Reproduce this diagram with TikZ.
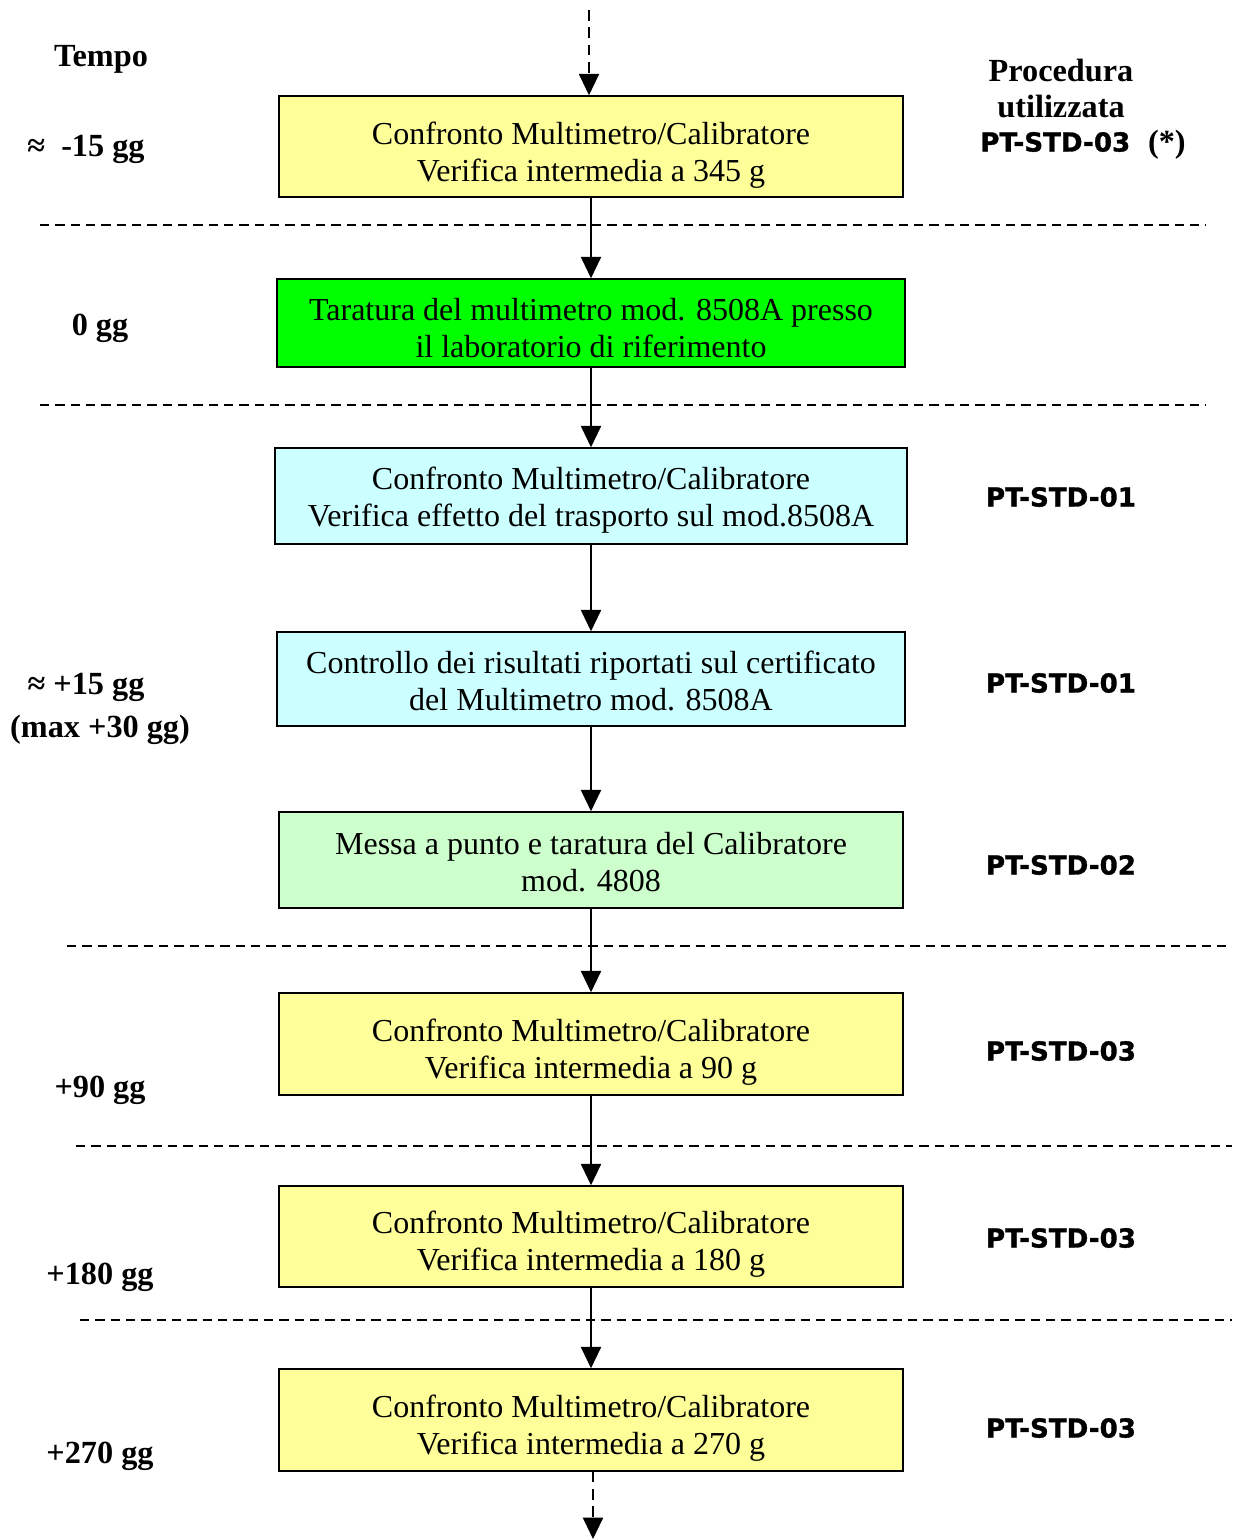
\documentclass[tikz,border=0pt]{standalone}
\usepackage{fontspec}
\setmainfont{Liberation Serif}
\newfontfamily\ptfont{DejaVu Sans Bold}[FakeBold=1.2]
\usetikzlibrary{arrows.meta}
\definecolor{yel}{HTML}{FFFF99}
\definecolor{grn}{HTML}{00FF00}
\definecolor{cya}{HTML}{CCFFFF}
\definecolor{lgr}{HTML}{CCFFCC}
\begin{document}
\begin{tikzpicture}[x=0.75pt,y=-0.75pt,
  box/.style={draw=black,line width=1.1pt,inner sep=0pt},
  txt/.style={inner sep=0pt,align=center,font=\fontsize{24}{27.5}\selectfont},
  lab/.style={font=\bfseries\fontsize{24.2}{27}\selectfont,inner sep=0pt},
  proc/.style={font=\ptfont\fontsize{19.6}{22}\selectfont,inner sep=0pt},
  flow/.style={line width=1.5pt,-{Triangle[width=15pt,length=16pt]}},
  sep/.style={line width=0.9pt,dash pattern=on 7pt off 4.5pt}]
\useasboundingbox (0,0) rectangle (1232,1539);

% boxes
\node[box,fill=yel,minimum width=468pt,minimum height=75.75pt] (b1) at (591,146.5) {};
\node[box,fill=grn,minimum width=471pt,minimum height=66pt] (b2) at (591,323) {};
\node[box,fill=cya,minimum width=474pt,minimum height=72pt] (b3) at (591,496) {};
\node[box,fill=cya,minimum width=471pt,minimum height=70.5pt] (b4) at (591,679) {};
\node[box,fill=lgr,minimum width=468pt,minimum height=72pt] (b5) at (591,860) {};
\node[box,fill=yel,minimum width=468pt,minimum height=76.5pt] (b6) at (591,1044) {};
\node[box,fill=yel,minimum width=468pt,minimum height=75.75pt] (b7) at (591,1236.5) {};
\node[box,fill=yel,minimum width=468pt,minimum height=76.5pt] (b8) at (591,1420) {};

% box texts
\node[txt] (b1t) at (591,155) {Confronto Multimetro/Calibratore\\Verifica intermedia a 345 g};
\node[txt] (b2t) at (591,328) {Taratura del multimetro mod. 8508A presso\\il laboratorio di riferimento};
\node[txt] (b3t) at (591,500) {Confronto Multimetro/Calibratore\\Verifica effetto del trasporto sul mod.8508A};
\node[txt] (b4t) at (591,681) {Controllo dei risultati riportati sul certificato\\del Multimetro mod. 8508A};
\node[txt] (b5t) at (591,862) {Messa a punto e taratura del Calibratore\\mod. 4808};
\node[txt] (b6t) at (591,1052) {Confronto Multimetro/Calibratore\\Verifica intermedia a 90 g};
\node[txt] (b7t) at (591,1244) {Confronto Multimetro/Calibratore\\Verifica intermedia a 180 g};
\node[txt] (b8t) at (591,1428) {Confronto Multimetro/Calibratore\\Verifica intermedia a 270 g};

% separators
\draw[sep] (40,225) -- (1206,225);
\draw[sep] (40,405) -- (1206,405);
\draw[sep] (67,946) -- (1232,946);
\draw[sep] (76,1146) -- (1232,1146);
\draw[sep] (80,1320) -- (1232,1320);

% connectors
\coordinate (top) at (589,10);
\coordinate (bot) at (593,1539);
\draw[flow,dash pattern=on 8pt off 5pt] (top) -- (b1.north -| top);
\draw[flow] (b1.south) -- (b2.north);
\draw[flow] (b2.south) -- (b3.north);
\draw[flow] (b3.south) -- (b4.north);
\draw[flow] (b4.south) -- (b5.north);
\draw[flow] (b5.south) -- (b6.north);
\draw[flow] (b6.south) -- (b7.north);
\draw[flow] (b7.south) -- (b8.north);
\draw[flow,dash pattern=on 8pt off 5pt] (b8.south -| bot) -- (bot);

% time labels
\node[lab] (t0) at (101,59) {Tempo};
\node[lab] (t1) at (86,149) {≈\ \ -15 gg};
\node[lab] (t2) at (100,328) {0 gg};
\node[lab] (t3) at (86,687) {≈ +15 gg};
\node[lab] (t3b) at (100,730) {(max +30 gg)};
\node[lab] (t4) at (100,1090) {+90 gg};
\node[lab] (t5) at (100,1277) {+180 gg};
\node[lab] (t6) at (100,1456) {+270 gg};

% procedure labels
\node[lab] (p0) at (1061,70) {Procedura};
\node[lab] (p0b) at (1061,106) {utilizzata};
\node[proc,anchor=west] (p1) at (980,142) {PT-STD-03};
\node[lab,anchor=east] (p1s) at (1186,145) {(*)};
\node[proc] (p2) at (1061,497) {PT-STD-01};
\node[proc] (p3) at (1061,683) {PT-STD-01};
\node[proc] (p4) at (1061,865) {PT-STD-02};
\node[proc] (p5) at (1061,1051) {PT-STD-03};
\node[proc] (p6) at (1061,1238) {PT-STD-03};
\node[proc] (p7) at (1061,1428) {PT-STD-03};
\end{tikzpicture}
\end{document}
